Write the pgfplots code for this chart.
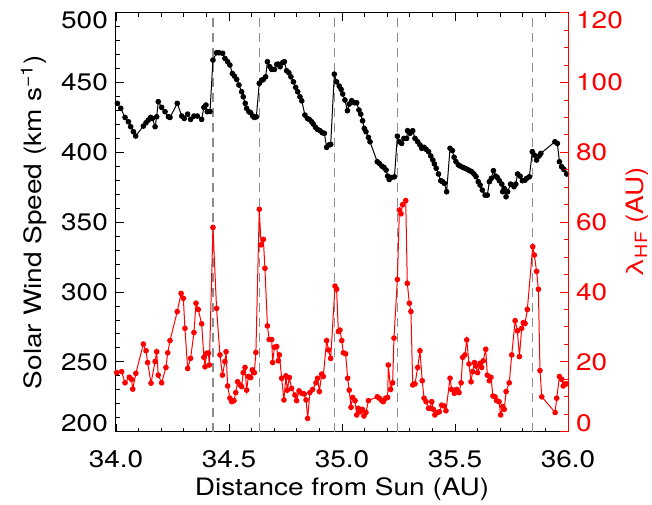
\documentclass[border=0pt]{standalone}
\usepackage{fontspec}
\setmainfont{TeX Gyre Heros}[FakeStretch=1.17]
\usepackage{pgfplots}
\pgfplotsset{compat=1.18}
\begin{document}
\fontsize{24}{28}\selectfont
\begin{tikzpicture}
\pgfplotsset{
  base/.style={
    scale only axis, width=452bp, height=419bp,
    xmin=34, xmax=36,
    tick align=inside,
    major tick length=8bp, minor tick length=4bp,
    every tick label/.append style={font=\fontsize{24}{28}\selectfont},
    label style={font=\fontsize{24}{28}\selectfont},
    /pgf/number format/assume math mode=true,
    clip=true,
  },
  vdash/.style={draw=black!45, line width=1.1bp, dash pattern=on 9bp off 6bp, mark=none},
}
\begin{axis}[base,
  ymin=200, ymax=500,
  xtick={34,34.5,35,35.5,36},
  xticklabels={34.0,34.5,35.0,35.5,36.0},
  minor x tick num=4,
  ytick={200,250,300,350,400,450,500},
  yticklabels={{\raisebox{8.5bp}[\height][\depth]{200}},250,300,350,400,450,{\raisebox{-8bp}[\height][\depth]{500}}},
  minor y tick num=4,
  xtick pos=both, ytick pos=left,
  axis line style={line width=1bp},
  every tick/.style={black, line width=0.9bp},
  xticklabel style={anchor=base, yshift=-35.3bp},
  xlabel={Distance from Sun (AU)},
  xlabel style={at={(axis description cs:0.5,0)}, anchor=base, yshift=-63.3bp},
  ylabel={Solar Wind Speed (km s\textsuperscript{−1})},
  ylabel style={at={(axis description cs:-0.1644,0.5)}, anchor=base},
]
\coordinate (bbA) at (rel axis cs:0,0);
\coordinate (bbB) at (rel axis cs:1,1);
\addplot[vdash] coordinates {(34.429,200) (34.429,500)};
\addplot[vdash] coordinates {(34.634,200) (34.634,500)};
\addplot[vdash] coordinates {(34.965,200) (34.965,500)};
\addplot[vdash] coordinates {(35.245,200) (35.245,500)};
\addplot[vdash] coordinates {(35.844,200) (35.844,500)};
\addplot[black, line width=1bp, mark=*, mark size=2.3bp, mark options={solid}] coordinates {
(34.006,435.1) (34.021,431.5) (34.040,425.0) (34.055,421.9) (34.065,418.4) (34.077,414.8)
(34.087,411.7) (34.121,418.8) (34.133,421.2) (34.143,423.1) (34.153,425.0) (34.161,424.3)
(34.173,418.4) (34.180,425.5) (34.187,436.3) (34.202,432.2) (34.217,429.1) (34.232,425.5)
(34.239,425.0) (34.271,435.1) (34.291,426.0) (34.302,424.3) (34.317,427.4) (34.330,423.6)
(34.345,426.0) (34.360,426.0) (34.379,423.6) (34.389,432.2) (34.398,433.9) (34.404,429.1)
(34.416,429.3) (34.429,466.1) (34.445,471.3) (34.456,471.3) (34.472,470.9) (34.482,467.3)
(34.494,464.9) (34.504,462.5) (34.515,456.5) (34.524,454.6) (34.534,452.2) (34.544,448.2)
(34.556,443.4) (34.563,439.8) (34.572,435.1) (34.578,431.5) (34.588,429.1) (34.596,428.4)
(34.605,426.0) (34.612,425.0) (34.621,425.5) (34.634,449.4) (34.645,451.7) (34.652,452.2)
(34.662,454.1) (34.670,464.9) (34.681,461.3) (34.689,459.4) (34.701,459.4) (34.711,463.0)
(34.718,463.2) (34.726,461.3) (34.737,464.2) (34.745,464.9) (34.755,458.4) (34.765,457.0)
(34.774,454.1) (34.785,450.5) (34.795,446.5) (34.804,443.4) (34.814,439.8) (34.822,436.9)
(34.836,426.7) (34.847,424.3) (34.855,423.6) (34.866,421.9) (34.873,420.2) (34.883,417.9)
(34.892,416.4) (34.903,415.5) (34.913,414.1) (34.922,413.6) (34.932,403.6) (34.942,405.3)
(34.950,405.7) (34.966,456.0) (34.976,450.5) (34.988,447.4) (34.996,445.1) (35.003,441.8)
(35.013,437.5) (35.024,429.8) (35.032,434.6) (35.043,437.0) (35.055,435.5) (35.065,435.5)
(35.075,430.3) (35.083,427.4) (35.091,422.6) (35.099,417.1) (35.106,414.8) (35.117,410.7)
(35.124,407.6) (35.156,393.3) (35.165,392.1) (35.176,390.2) (35.186,389.2) (35.195,387.3)
(35.202,383.0) (35.209,380.6) (35.218,382.0) (35.232,382.5) (35.245,411.6) (35.254,407.6)
(35.264,406.4) (35.274,410.0) (35.286,410.0) (35.290,415.5) (35.301,413.6) (35.313,415.5)
(35.323,410.0) (35.335,407.6) (35.345,405.3) (35.353,402.9) (35.363,403.6) (35.372,402.2)
(35.383,400.5) (35.393,397.4) (35.402,394.5) (35.409,391.7) (35.417,388.6) (35.427,384.5)
(35.437,379.7) (35.445,379.0) (35.453,377.8) (35.463,371.8) (35.478,402.9) (35.488,401.3)
(35.496,396.5) (35.504,393.4) (35.515,391.0) (35.522,390.3) (35.534,389.3) (35.544,388.6)
(35.555,387.8) (35.564,386.9) (35.574,386.2) (35.584,384.5) (35.593,382.6) (35.603,379.0)
(35.611,376.6) (35.621,373.0) (35.633,369.4) (35.643,369.4) (35.652,379.0) (35.661,381.4)
(35.670,386.9) (35.680,383.0) (35.687,382.1) (35.696,379.7) (35.707,377.3) (35.711,371.8)
(35.718,374.2) (35.726,368.2) (35.733,371.8) (35.746,377.3) (35.761,375.4) (35.769,377.3)
(35.777,384.5) (35.788,383.0) (35.798,379.7) (35.810,380.1) (35.817,381.4) (35.829,382.5)
(35.842,400.5) (35.851,398.1) (35.861,394.5) (35.872,397.4) (35.880,399.3) (35.942,407.6)
(35.953,406.4) (35.962,393.3) (35.972,389.7) (35.982,387.8) (35.994,384.5)
};
\end{axis}
\begin{axis}[base,
  ymin=0, ymax=120,
  axis x line=none, axis y line*=right,
  ytick={0,20,40,60,80,100,120},
  yticklabels={{\raisebox{8.5bp}[\height][\depth]{0}},20,40,60,80,100,{\raisebox{-8bp}[\height][\depth]{120}}},
  minor y tick num=3,
  y axis line style={red, line width=1bp},
  every tick/.style={red, line width=0.9bp},
  yticklabel style={red},
  ylabel={λ\textsubscript{HF} (AU)},
  ylabel style={red, at={(axis description cs:1.1666,0.5)}, anchor=base},
]
\addplot[red, line width=1bp, mark=*, mark size=2.3bp, mark options={solid}] coordinates {
(34.003,16.9) (34.025,17.2) (34.040,14.0) (34.059,15.6) (34.069,15.0) (34.074,12.2)
(34.088,16.7) (34.121,25.1) (34.133,23.2) (34.140,19.8) (34.155,13.9) (34.173,20.1)
(34.180,22.9) (34.187,16.2) (34.202,14.0) (34.221,18.4) (34.229,22.6) (34.239,26.1)
(34.271,34.4) (34.288,39.6) (34.298,38.2) (34.305,29.6) (34.317,18.1) (34.330,21.0)
(34.345,28.4) (34.354,36.8) (34.364,35.0) (34.379,30.9) (34.389,21.3) (34.394,18.6)
(34.401,22.5) (34.409,22.5) (34.413,19.1) (34.429,58.5) (34.445,35.3) (34.460,22.0)
(34.471,16.2) (34.482,20.1) (34.487,22.9) (34.494,13.1) (34.504,9.6) (34.512,8.6)
(34.522,8.9) (34.530,11.2) (34.538,14.3) (34.549,13.4) (34.556,12.9) (34.563,16.9)
(34.571,18.4) (34.578,11.9) (34.586,15.8) (34.596,15.5) (34.603,17.7) (34.612,16.9)
(34.619,22.7) (34.634,63.7) (34.642,53.5) (34.652,55.1) (34.659,46.8) (34.670,30.3)
(34.678,26.4) (34.689,26.4) (34.693,19.8) (34.701,24.2) (34.711,24.4) (34.718,20.3)
(34.723,22.0) (34.733,15.3) (34.743,9.1) (34.752,16.0) (34.758,11.9) (34.767,15.5)
(34.777,12.4) (34.792,10.5) (34.799,8.9) (34.810,11.7) (34.822,11.0) (34.833,10.8)
(34.841,9.1) (34.848,3.8) (34.858,11.2) (34.870,12.1) (34.885,14.0) (34.892,15.3)
(34.900,11.5) (34.910,16.5) (34.917,15.8) (34.932,26.1) (34.940,23.4) (34.950,21.0)
(34.969,41.7) (34.976,40.8) (34.984,28.7) (34.991,29.1) (34.999,26.1) (35.006,22.6)
(35.016,22.3) (35.025,15.3) (35.032,11.9) (35.040,7.0) (35.047,9.8) (35.058,8.9)
(35.065,4.8) (35.072,6.7) (35.080,5.7) (35.090,6.4) (35.097,4.5) (35.106,5.5)
(35.117,8.9) (35.156,10.0) (35.165,9.6) (35.176,8.9) (35.183,8.6) (35.193,9.6)
(35.202,9.8) (35.205,19.1) (35.215,12.1) (35.224,14.0) (35.230,26.8) (35.245,43.6)
(35.254,63.5) (35.261,62.4) (35.268,65.0) (35.282,66.2) (35.289,42.5) (35.298,36.8)
(35.305,34.4) (35.313,13.4) (35.323,13.7) (35.335,18.4) (35.345,23.2) (35.355,14.6)
(35.363,9.6) (35.372,8.6) (35.383,6.7) (35.389,6.7) (35.397,8.6) (35.404,6.4)
(35.411,4.8) (35.422,5.5) (35.431,5.7) (35.441,7.6) (35.451,7.4) (35.460,6.0)
(35.478,15.3) (35.485,12.1) (35.497,11.0) (35.507,12.1) (35.518,11.2) (35.527,14.0)
(35.534,21.3) (35.544,22.0) (35.552,26.3) (35.562,19.4) (35.571,14.3) (35.578,17.2)
(35.586,19.8) (35.593,18.8) (35.600,16.9) (35.611,19.6) (35.618,18.4) (35.625,20.3)
(35.636,23.6) (35.643,16.2) (35.652,14.6) (35.659,15.6) (35.668,10.2) (35.677,10.0)
(35.684,8.9) (35.695,8.6) (35.702,4.8) (35.711,7.2) (35.718,6.4) (35.726,11.5)
(35.740,14.0) (35.751,22.0) (35.766,31.8) (35.776,28.9) (35.785,21.5) (35.795,29.6)
(35.802,31.2) (35.810,31.0) (35.820,35.0) (35.844,53.0) (35.851,50.6) (35.861,45.9)
(35.869,40.8) (35.876,17.5) (35.884,10.0) (35.943,5.5) (35.950,9.6) (35.962,15.8)
(35.972,15.0) (35.979,13.1) (35.987,13.7) (35.994,13.7)
};
\end{axis}
\pgfresetboundingbox
\path[use as bounding box] ([shift={(-116bp,-73.3bp)}]bbA) rectangle ([shift={(84bp,12.7bp)}]bbB);
\end{tikzpicture}
\end{document}
